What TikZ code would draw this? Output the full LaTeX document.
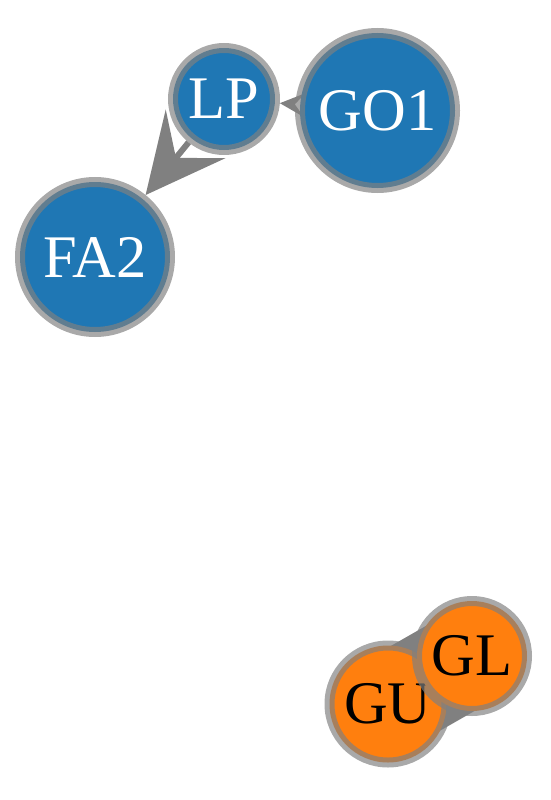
\documentclass[tikz,border=0pt]{standalone}
\usepackage{fontspec}
\setmainfont{Liberation Serif}
\usetikzlibrary{arrows.meta}
\pgfdeclarelayer{background}
\pgfsetlayers{background,main}
\definecolor{nblue}{RGB}{31,119,180}
\definecolor{norange}{RGB}{255,127,14}
\definecolor{ringgray}{RGB}{128,128,128}
\definecolor{edgegray}{RGB}{128,128,128}
\tikzset{
  netnode/.style={circle, inner sep=0pt, line width=10pt, draw=ringgray, draw opacity=0.68,
    font=\fontsize{60.5}{72}\selectfont},
  bluenode/.style={netnode, fill=nblue, text=white},
  orangenode/.style={netnode, fill=norange, text=black},
  bigedge/.style={draw=edgegray, line width=6pt,
    -{Stealth[length=79pt, width=77pt, inset=31pt, line width=0pt]}},
  smalledge/.style={draw=edgegray, line width=2pt,
    -{Stealth[length=25pt, width=24pt, inset=10pt, line width=0pt]}},
  bandedge/.style={draw=edgegray, line width=98pt}
}
\begin{document}
\begin{tikzpicture}[x=1pt, y=-1pt]
\useasboundingbox (0,0) rectangle (550,800);
\node[bluenode, minimum size=102pt] (LP) at (224,99) {LP};
\node[bluenode, minimum size=155pt] (GO1) at (377.5,110.5) {GO1};
\node[bluenode, minimum size=150pt] (FA2) at (95,257) {FA2};
\node[orangenode, minimum size=117pt] (GU) at (388,704) {GU};
\node[orangenode, minimum size=110pt] (GL) at (472,656) {GL};
\begin{pgfonlayer}{background}
\draw[bigedge] (LP) -- (FA2);
\draw[smalledge] (GO1) -- (LP);
\draw[bandedge] (GU.center) -- (GL.center);
\end{pgfonlayer}
\end{tikzpicture}
\end{document}
